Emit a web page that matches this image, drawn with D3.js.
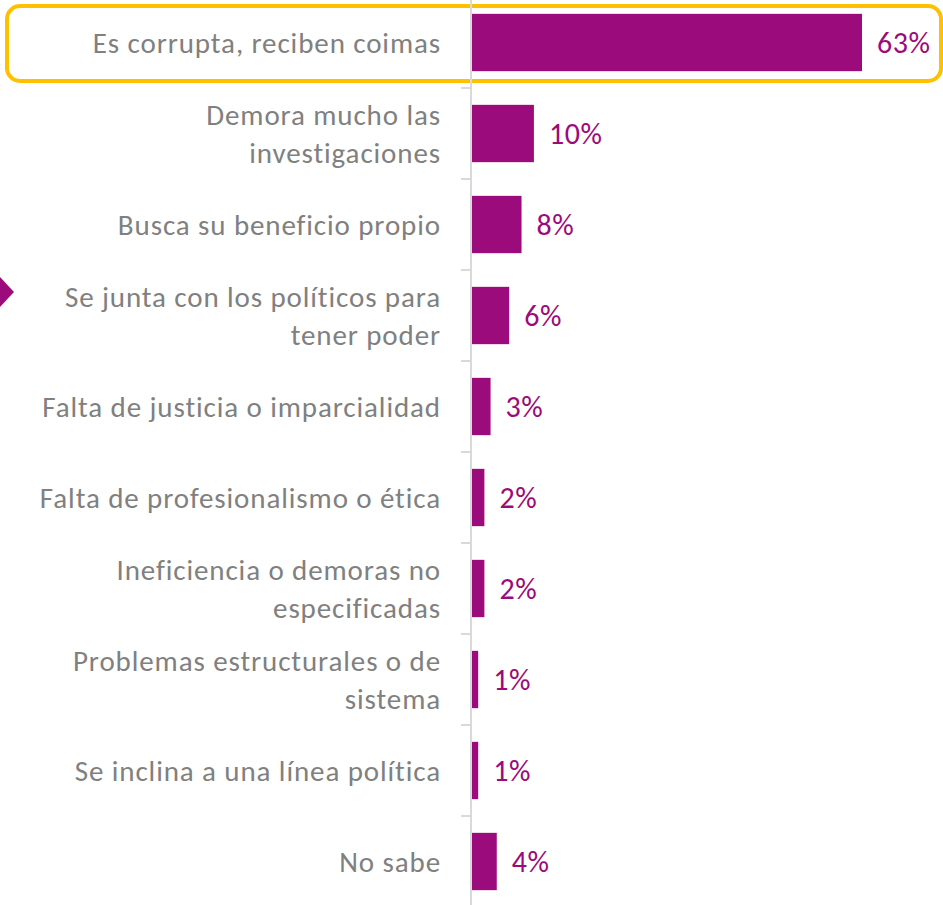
<!DOCTYPE html>
<html><head><meta charset="utf-8">
<script src="https://cdn.jsdelivr.net/npm/d3@7"></script>
<style>html,body{margin:0;padding:0;background:#fff;}svg{display:block;}</style>
</head><body>
<svg id="c" width="943" height="905"></svg>
<script>
const categories = [
  "Es corrupta, reciben coimas",
  "Demora mucho las\ninvestigaciones",
  "Busca su beneficio propio",
  "Se junta con los políticos para\ntener poder",
  "Falta de justicia o imparcialidad",
  "Falta de profesionalismo o ética",
  "Ineficiencia o demoras no\nespecificadas",
  "Problemas estructurales o de\nsistema",
  "Se inclina a una línea política",
  "No sabe"
];
const values = [63, 10, 8, 6, 3, 2, 2, 1, 1, 4];
const valueLabels = ["63%", "10%", "8%", "6%", "3%", "2%", "2%", "1%", "1%", "4%"];

const svg = d3.select("#c");
const FONT = "Carlito, Calibri, Lato, 'Open Sans', sans-serif";
const purple = "#9c0b7b";
const axisX = 471;

const y = d3.scaleBand().domain(categories).range([-3, 907]).paddingInner(0.37).paddingOuter(0.185);
const x = d3.scaleLinear().domain([0, 63]).range([472, 862]);

// highlight box
svg.append("rect").attr("x", 7).attr("y", 6).attr("width", 934).attr("height", 75)
  .attr("rx", 13).attr("fill", "none").attr("stroke", "#ffc000").attr("stroke-width", 4);

// axis
const yAxis = d3.axisLeft(y).tickSize(0).tickFormat("");
const ag = svg.append("g").attr("transform", `translate(${axisX},0)`).call(yAxis);
ag.select(".domain").attr("stroke", "#d9d9d9").attr("stroke-width", 2).attr("d", "M0,-3V907");
const step = y.step();
const bounds = d3.range(1, categories.length).map(i => y(categories[i]) - y.paddingInner() * step / 2);
ag.selectAll("line.b").data(bounds).join("line").attr("class", "b")
  .attr("x1", -10).attr("x2", 0).attr("y1", d => d).attr("y2", d => d)
  .attr("stroke", "#d9d9d9").attr("stroke-width", 2);

// bars
svg.selectAll("rect.bar").data(values).join("rect").attr("class", "bar")
  .attr("x", x(0)).attr("y", (d, i) => y(categories[i]))
  .attr("width", d => x(d) - x(0)).attr("height", y.bandwidth())
  .attr("fill", purple);

// value labels
svg.selectAll("text.val").data(values).join("text").attr("class", "val")
  .attr("x", d => x(d) + 15).attr("y", (d, i) => y(categories[i]) + y.bandwidth() / 2)
  .attr("dy", "0.36em").attr("fill", purple).attr("font-family", FONT).attr("font-size", 30)
  .attr("letter-spacing", 0.6)
  .text((d, i) => valueLabels[i]);

// category labels
const lab = svg.selectAll("text.cat").data(categories).join("text").attr("class", "cat")
  .attr("x", axisX - 30).attr("text-anchor", "end").attr("fill", "#808080")
  .attr("font-family", FONT).attr("font-size", 29).attr("letter-spacing", 0.9)
  .attr("y", d => y(d) + y.bandwidth() / 2);
lab.each(function (d) {
  const lines = d.split("\n");
  const t = d3.select(this);
  lines.forEach((l, j) => {
    t.append("tspan").attr("x", axisX - 30)
      .attr("dy", j === 0 ? `${0.35 - (lines.length - 1) * 0.66}em` : "1.32em").text(l);
  });
});

// left arrow marker
svg.append("path").attr("d", d3.line()([[0, 277], [14, 292], [0, 307]])).attr("fill", purple);
</script>
</body></html>
